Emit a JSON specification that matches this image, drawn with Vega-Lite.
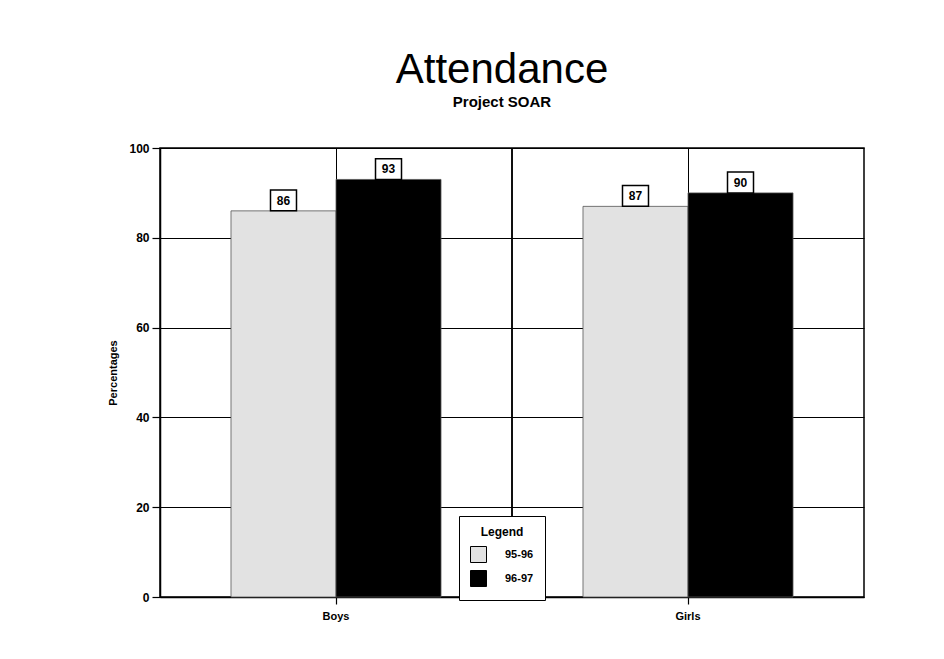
{
  "$schema": "https://vega.github.io/schema/vega-lite/v6.json",
  "autosize": {"type": "none"},
  "width": 704,
  "height": 449,
  "padding": {"left": 160, "top": 148, "right": 80, "bottom": 62},
  "background": "white",
  "title": {
    "text": "Attendance",
    "subtitle": "Project SOAR",
    "font": "Liberation Sans",
    "fontSize": 42,
    "fontWeight": "normal",
    "color": "black",
    "subtitleFont": "Liberation Sans",
    "subtitleFontSize": 15,
    "subtitleFontWeight": "bold",
    "subtitleColor": "black",
    "subtitlePadding": 3,
    "anchor": "middle",
    "offset": 31,
    "dx": -10
  },
  "data": {
    "values": [
      {"group": "Boys", "year": "95-96", "pct": 86},
      {"group": "Boys", "year": "96-97", "pct": 93},
      {"group": "Girls", "year": "95-96", "pct": 87},
      {"group": "Girls", "year": "96-97", "pct": 90}
    ]
  },
  "encoding": {
    "x": {
      "field": "group",
      "type": "nominal",
      "scale": {"type": "band", "paddingInner": 0, "paddingOuter": 0},
      "axis": {
        "title": null,
        "labelAngle": 0,
        "labelFont": "Liberation Sans",
        "labelFontSize": 11,
        "labelFontWeight": "bold",
        "labelColor": "black",
        "labelPadding": 6,
        "tickSize": 7,
        "tickColor": "black",
        "domainColor": "black",
        "grid": true,
        "gridColor": "black",
        "gridWidth": 1
      }
    }
  },
  "layer": [
    {
      "mark": {"type": "rule", "color": "black", "strokeWidth": 1},
      "encoding": {"x": {"datum": "Girls", "bandPosition": 0}}
    },
    {
      "mark": {"type": "bar", "stroke": "#555555", "strokeWidth": 0.8},
      "encoding": {
        "xOffset": {
          "field": "year",
          "type": "nominal",
          "scale": {"domain": ["95-96", "96-97"], "paddingOuter": 0.676, "paddingInner": 0}
        },
        "y": {
          "field": "pct",
          "type": "quantitative",
          "scale": {"domain": [0, 100], "nice": false},
          "axis": {
            "title": "Percentages",
            "values": [0, 20, 40, 60, 80, 100],
            "titleFont": "Liberation Sans",
            "titleFontSize": 11,
            "titleFontWeight": "bold",
            "titleColor": "black",
            "titlePadding": 10,
            "labelFont": "Liberation Sans",
            "labelFontSize": 12,
            "labelFontWeight": "bold",
            "labelColor": "black",
            "labelPadding": 3,
            "tickSize": 8,
            "tickColor": "black",
            "domainColor": "black",
            "grid": true,
            "gridColor": "black",
            "gridWidth": 1
          }
        },
        "color": {
          "field": "year",
          "type": "nominal",
          "scale": {"domain": ["95-96", "96-97"], "range": ["#e2e2e2", "#000000"]},
          "legend": {
            "title": "Legend",
            "orient": "none",
            "legendX": 299,
            "legendY": 368,
            "direction": "vertical",
            "titleAnchor": "middle",
            "titleFont": "Liberation Sans",
            "titleFontSize": 12,
            "titleFontWeight": "bold",
            "titleColor": "black",
            "titlePadding": 7,
            "labelFont": "Liberation Sans",
            "labelFontSize": 11,
            "labelFontWeight": "bold",
            "labelColor": "black",
            "labelOffset": 18,
            "symbolType": "square",
            "symbolSize": 256,
            "symbolStrokeColor": "black",
            "symbolStrokeWidth": 1,
            "symbolOpacity": 1,
            "rowPadding": 3,
            "padding": 11,
            "strokeColor": "black",
            "fillColor": "white"
          }
        }
      }
    },
    {
      "mark": {
        "type": "point",
        "shape": "M-1,-1.6H1V0H-1Z",
        "size": 676,
        "filled": true,
        "fill": "white",
        "stroke": "black",
        "strokeWidth": 1.5,
        "opacity": 1
      },
      "encoding": {
        "xOffset": {"field": "year", "type": "nominal"},
        "y": {"field": "pct", "type": "quantitative"}
      }
    },
    {
      "mark": {
        "type": "text",
        "dy": -10,
        "font": "Liberation Sans",
        "fontSize": 12,
        "fontWeight": "bold",
        "color": "black"
      },
      "encoding": {
        "xOffset": {"field": "year", "type": "nominal"},
        "y": {"field": "pct", "type": "quantitative"},
        "text": {"field": "pct", "type": "quantitative"}
      }
    }
  ],
  "config": {
    "view": {"stroke": "black", "strokeWidth": 1.5},
    "axis": {"domainWidth": 1.5, "tickWidth": 1.2}
  }
}
